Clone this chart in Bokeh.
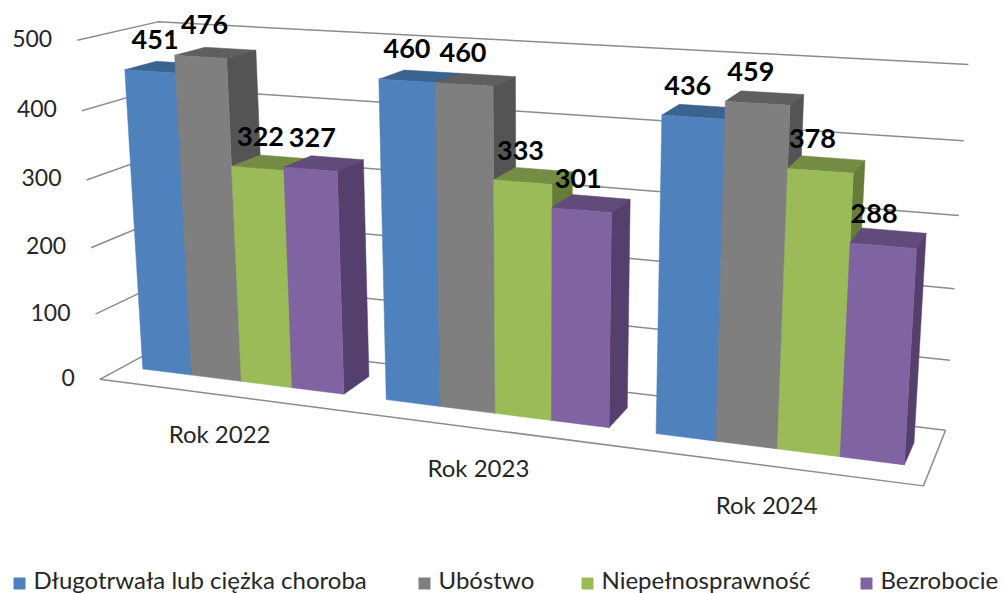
import numpy as np
from bokeh.plotting import figure
from bokeh.core.properties import value
from bokeh.embed import file_html
from bokeh.resources import INLINE

categories = ["Rok 2022", "Rok 2023", "Rok 2024"]
series_names = ["Długotrwała lub ciężka choroba", "Ubóstwo", "Niepełnosprawność", "Bezrobocie"]
dlugotrwala = [451, 460, 436]
ubostwo = [476, 460, 459]
niepelnosprawnosc = [322, 333, 378]
bezrobocie = [327, 301, 288]
tick_values = [0, 100, 200, 300, 400, 500]
front_colors = ["#4F81BD", "#7F7F7F", "#9BBB59", "#8064A2"]
top_colors = ["#3B6390", "#5F5F5F", "#748C43", "#604B7A"]
side_colors = ["#35577F", "#545454", "#677C3B", "#553F6C"]
legend_marker_x = [13, 418, 581, 860]
series = [dlugotrwala, ubostwo, niepelnosprawnosc, bezrobocie]

# calibration of the 3-D box (world corner -> screen pixel)
VMAX = 500.0
anchors = [
    ((0, 0, 0), (99, 378)), ((1, 0, 0), (923, 486)), ((1, 0, 1), (945, 429)),
    ((0, 0, 1), (175, 339)), ((0, 1, 0), (77, 40)), ((0, 1, 1), (157, 21)),
    ((1, 1, 1), (968, 64)),
]
A, b = [], []
for (X, Y, Z), (u, v) in anchors:
    A.append([X, Y, Z, 1, 0, 0, 0, 0, -u*X, -u*Y, -u*Z]); b.append(u)
    A.append([0, 0, 0, 0, X, Y, Z, 1, -v*X, -v*Y, -v*Z]); b.append(v)
h = np.linalg.lstsq(np.array(A, float), np.array(b, float), rcond=None)[0]

def proj(X, val, Z):
    Y = val / VMAX
    d = h[8]*X + h[9]*Y + h[10]*Z + 1
    return (h[0]*X + h[1]*Y + h[2]*Z + h[3]) / d, (h[4]*X + h[5]*Y + h[6]*Z + h[7]) / d

p = figure(width=1003, height=593, x_range=(0, 1003), y_range=(593, 0),
           output_backend="svg", toolbar_location=None, min_border=0,
           outline_line_color=None, background_fill_color="white")
p.axis.visible = False
p.grid.visible = False

# walls' gridlines and floor
grid_color = "#8C8C8C"
for t in tick_values:
    pts = [proj(0, t, 0), proj(0, t, 1), proj(1, t, 1)]
    p.line([q[0] for q in pts], [q[1] for q in pts], line_color=grid_color, line_width=1.5)
pts = [proj(0, 0, 0), proj(1, 0, 0), proj(1, 0, 1)]
p.line([q[0] for q in pts], [q[1] for q in pts], line_color=grid_color, line_width=1.5)

# bars
GAP = 0.8
Z0, Z1 = 0.30, 0.70
w = 1 / (3 * (4 + GAP))
lab_x, lab_y, lab_t = [], [], []
for i in range(len(categories)):
    for s, vals in enumerate(series):
        v = vals[i]
        x0 = i / 3 + GAP / 2 * w + s * w
        x1 = x0 + w
        top = [proj(x0, v, Z0), proj(x1, v, Z0), proj(x1, v, Z1), proj(x0, v, Z1)]
        side = [proj(x1, 0, Z0), proj(x1, v, Z0), proj(x1, v, Z1), proj(x1, 0, Z1)]
        front = [proj(x0, 0, Z0), proj(x1, 0, Z0), proj(x1, v, Z0), proj(x0, v, Z0)]
        for poly, col in ((top, top_colors[s]), (side, side_colors[s]), (front, front_colors[s])):
            p.patch([q[0] for q in poly], [q[1] for q in poly], fill_color=col,
                    line_color=col, line_width=0.5)
        cx, cy = proj((x0 + x1) / 2, v, Z0)
        lab_x.append(cx + 5 - 14 * (cx - 150) / 730)
        lab_y.append(cy - 32)
        lab_t.append(str(v))

p.text(lab_x, lab_y, text=lab_t, text_font=value("Lato"), text_font_style="bold",
       text_font_size="27px", text_align="center", text_baseline="middle", text_color="#000000")

# value-axis labels
tx = [proj(0, t, 0)[0] - 25 for t in tick_values]
ty = [proj(0, t, 0)[1] - 2 for t in tick_values]
p.text(tx, ty, text=[str(t) for t in tick_values], text_font=value("Lato"), text_font_size="23px",
       text_align="right", text_baseline="middle", text_color="#262626")

# category labels
cat_pts = [proj((i + 0.5) / 3, 0, 0) for i in range(3)]
p.text([q[0] for q in cat_pts], [q[1] + 39 for q in cat_pts], text=categories, text_font=value("Lato"),
       text_font_size="24px", text_align="center", text_baseline="middle", text_color="#262626")

# legend
p.rect([m + 6 for m in legend_marker_x], [583] * 4, width=12, height=12,
       fill_color=front_colors, line_color=None)
p.text([m + 20 for m in legend_marker_x], [579] * 4, text=series_names, text_font=value("Lato"),
       text_font_size="24px", text_align="left", text_baseline="middle", text_color="#262626")

open("out.html", "w").write(file_html(p, INLINE))
